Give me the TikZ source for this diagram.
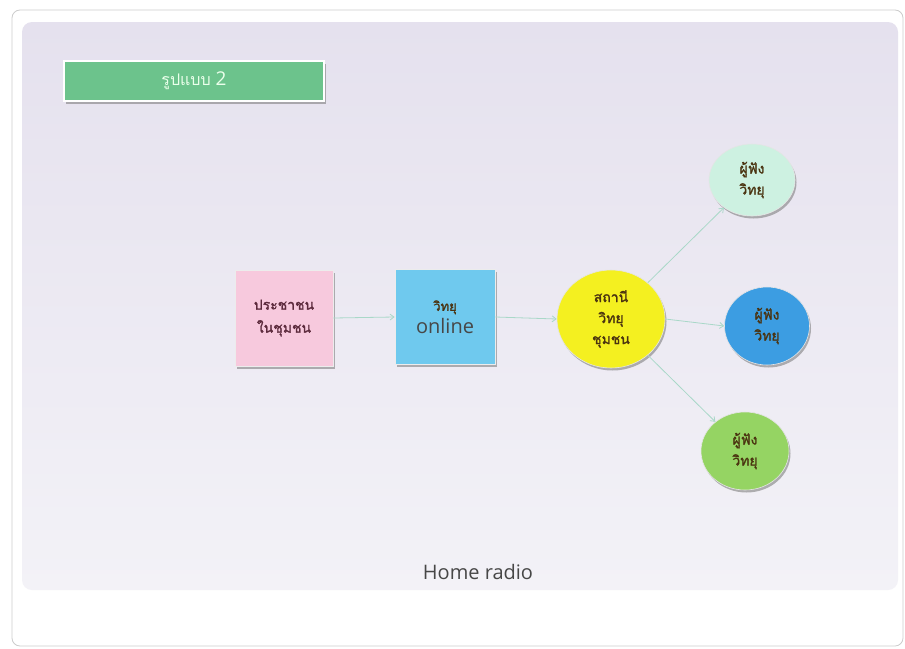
\documentclass[tikz,border=0pt]{standalone}
\usepackage{fontspec}
\setmainfont{Open Sans}
\newfontfamily\thaifont[Script=Thai, AutoFakeBold=1.6]{Loma}
\newfontfamily\thaititle[Script=Thai]{Loma}
\usetikzlibrary{shadows,arrows.meta,shapes.geometric}
\definecolor{slidebg}{HTML}{E5E1EE}
\definecolor{slidebot}{HTML}{F3F2F7}
\definecolor{titlegreen}{HTML}{6CC38C}
\definecolor{pinkbox}{HTML}{F7C9DD}
\definecolor{bluebox}{HTML}{6FC9EE}
\definecolor{yellowc}{HTML}{F4F020}
\definecolor{mintc}{HTML}{CDF1E1}
\definecolor{bluec}{HTML}{3C9DE2}
\definecolor{greenc}{HTML}{95D463}
\definecolor{arrowc}{HTML}{A9D8C8}
\definecolor{thaitext}{HTML}{4A3310}
\definecolor{pinktext}{HTML}{5C2A3C}
\tikzset{
  sq/.style={draw=white!85!gray, line width=0.8pt, minimum width=98pt, minimum height=96pt,
    align=center, drop shadow={shadow xshift=1.5pt, shadow yshift=-2.5pt, opacity=0.6}},
  el/.style={ellipse, draw=white!80!gray, line width=0.6pt, align=center,
    drop shadow={shadow xshift=1.5pt, shadow yshift=-2.5pt, opacity=0.6},
    font=\thaifont\bfseries\fontsize{14}{21}\selectfont, text=thaitext, inner sep=0pt},
  conn/.style={draw=arrowc, line width=0.8pt, -{Straight Barb[length=4pt,width=6pt]}}
}
\begin{document}
\begin{tikzpicture}[x=1pt,y=-1pt]
\useasboundingbox (0,0) rectangle (905,648);
\fill[white] (0,0) rectangle (905,648);
% outer card
\draw[gray!40, line width=0.8pt, rounded corners=8pt, fill=white] (12,10) rectangle (903,646);
% slide
\shade[top color=slidebg, bottom color=slidebot, rounded corners=10pt] (22,22) rectangle (898,590);
% title box
\node[draw=white, line width=2pt, fill=titlegreen, minimum width=260pt, minimum height=40pt,
  drop shadow={shadow xshift=1.5pt, shadow yshift=-2.5pt, opacity=0.6},
  text=white!92!green, font=\fontsize{19}{22}\selectfont] (title) at (194,81)
  {{\thaititle\fontsize{16}{18}\selectfont รูปแบบ} 2};
% boxes
\node[sq, fill=pinkbox, font=\thaifont\bfseries\fontsize{14}{23}\selectfont, text=pinktext] (people) at (284,318)
  {ประชาชน\\ในชุมชน};
\node[sq, fill=bluebox, minimum width=100pt, minimum height=95pt, text=black!72] (online) at (445,317)
  {{\thaifont\bfseries\fontsize{13}{16}\selectfont\color{thaitext} วิทยุ}\\[3pt]{\fontsize{20}{22}\selectfont online}};
% circles
\node[el, fill=yellowc, minimum width=108pt, minimum height=98pt] (station) at (611,319)
  {สถานี\\วิทยุ\\ชุมชน};
\node[el, fill=mintc, minimum width=86pt, minimum height=72pt] (l1) at (752,180) {ผู้ฟัง\\วิทยุ};
\node[el, fill=bluec, minimum width=85pt, minimum height=78pt] (l2) at (767,326) {ผู้ฟัง\\วิทยุ};
\node[el, fill=greenc, minimum width=88pt, minimum height=78pt] (l3) at (745,451) {ผู้ฟัง\\วิทยุ};
% connectors
\draw[conn] (people.east) -- (online.west);
\draw[conn] (online.east) -- (station.west);
\draw[conn] (station) -- (l1);
\draw[conn] (station.east) -- (l2.west);
\draw[conn] (station) -- (l3);
% caption
\node[text=black!72, font=\fontsize{20}{24}\selectfont] (caption) at (478,572) {Home radio};
\end{tikzpicture}
\end{document}
